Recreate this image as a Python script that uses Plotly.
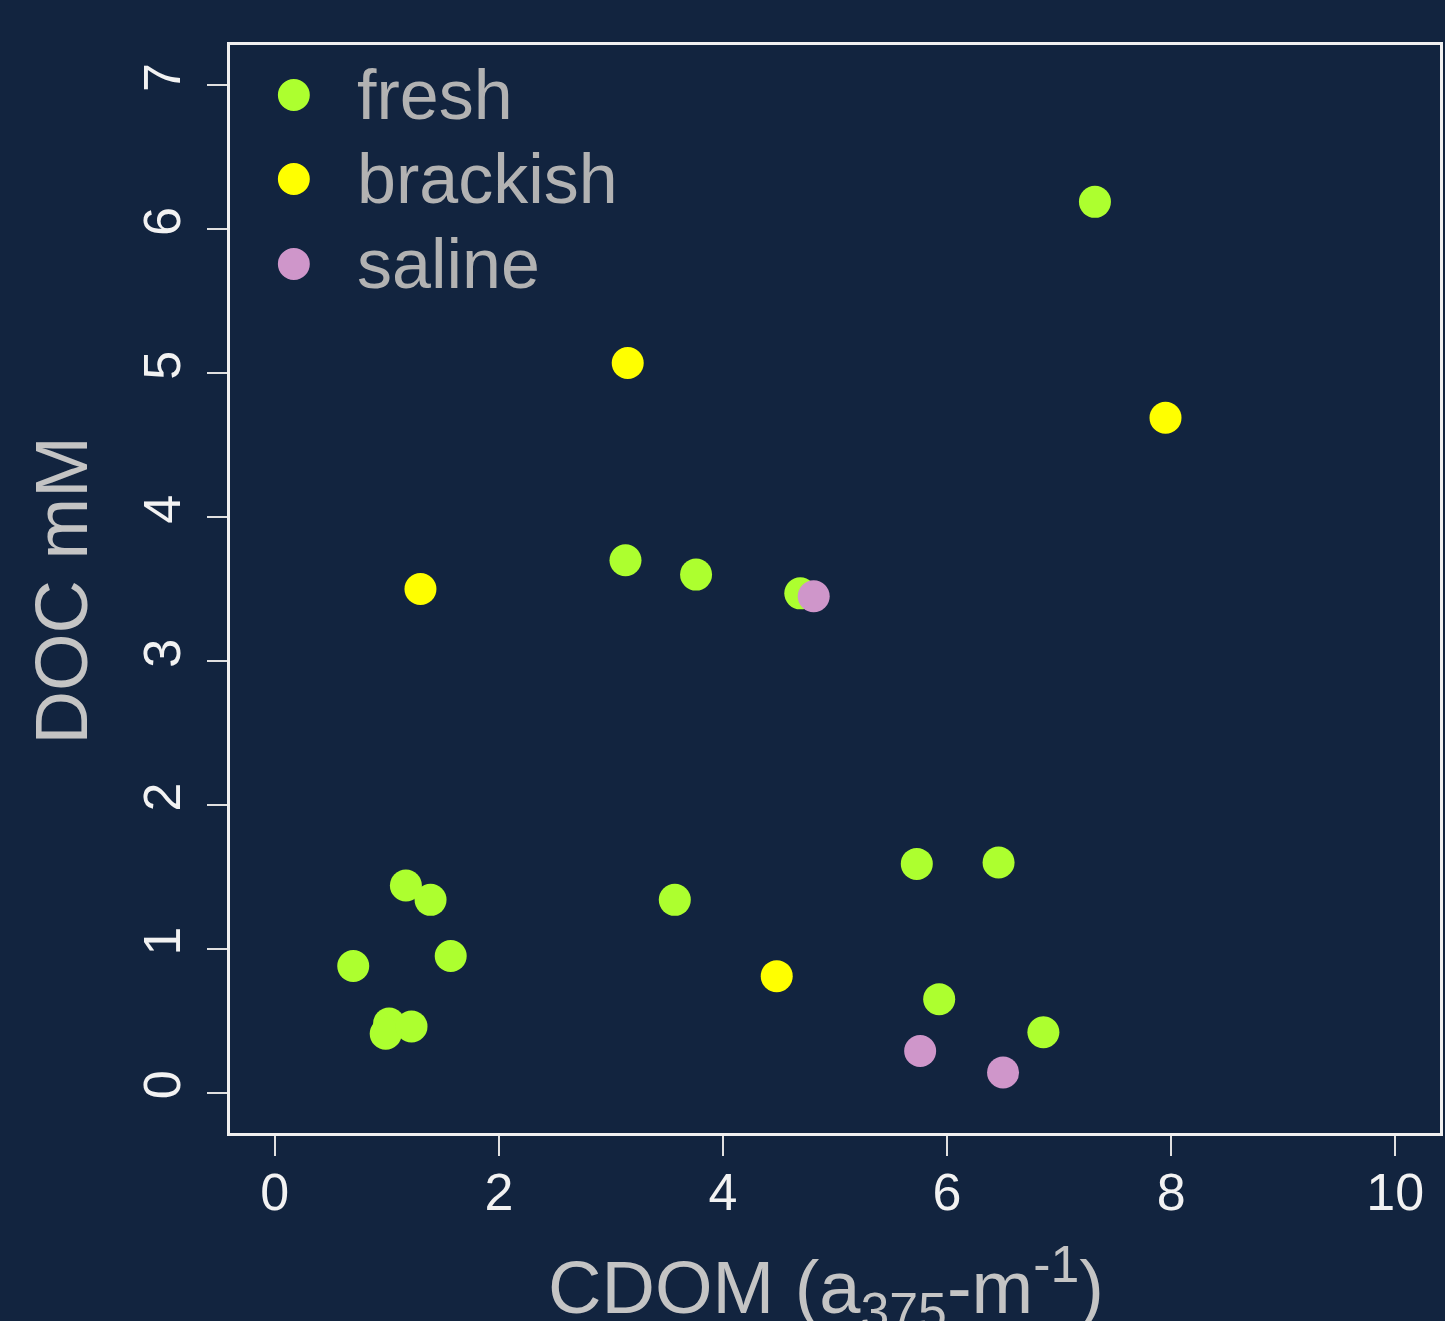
import plotly.graph_objects as go

BG = "#12243f"

fresh_x = [7.32, 3.13, 3.76, 4.69, 5.73, 6.46, 1.17, 1.39, 3.57, 0.70, 1.57, 5.93, 1.02, 0.99, 1.22, 6.86]
fresh_y = [6.19, 3.70, 3.60, 3.47, 1.59, 1.60, 1.44, 1.34, 1.34, 0.88, 0.95, 0.65, 0.48, 0.41, 0.46, 0.42]
brackish_x = [3.15, 7.95, 1.30, 4.48]
brackish_y = [5.07, 4.69, 3.50, 0.81]
saline_x = [4.81, 5.76, 6.50]
saline_y = [3.45, 0.29, 0.14]

groups = ["fresh", "brackish", "saline"]
colors = ["#adff2f", "#ffff00", "#cf96ca"]
xs = [fresh_x, brackish_x, saline_x]
ys = [fresh_y, brackish_y, saline_y]

x_ticks = [0, 2, 4, 6, 8, 10]
y_ticks = [0, 1, 2, 3, 4, 5, 6, 7]

fig = go.Figure()
for name, c, x, y in zip(groups, colors, xs, ys):
    fig.add_trace(go.Scatter(x=x, y=y, mode="markers", name=name,
                             marker=dict(color=c, size=32, line=dict(width=0)),
                             showlegend=False))

W, H = 1445, 1321
L, R, T, B = 230, 2, 45, 188

def px_to_paper_x(px):
    return (px - L) / (W - L - R)

def px_to_paper_y(py):
    return 1 - (py - T) / (H - T - B)

shapes = []
annotations = []
# manual legend
leg_y = [95, 179, 264]
for name, c, py in zip(groups, colors, leg_y):
    r = 16
    shapes.append(dict(type="circle", xref="paper", yref="paper",
                       x0=px_to_paper_x(294 - r), x1=px_to_paper_x(294 + r),
                       y0=px_to_paper_y(py + r), y1=px_to_paper_y(py - r),
                       fillcolor=c, line=dict(width=0)))
    annotations.append(dict(text=name, xref="paper", yref="paper",
                            x=px_to_paper_x(355), y=px_to_paper_y(py),
                            xanchor="left", yanchor="middle", showarrow=False,
                            font=dict(size=70, color="#b2b2b2",
                                      family="Liberation Sans, Arial, sans-serif")))

# axis titles
annotations.append(dict(text="CDOM (a<sub>375</sub>-m<sup>-1</sup>)", xref="paper", yref="paper",
                        x=px_to_paper_x(827), y=px_to_paper_y(1287),
                        xanchor="center", yanchor="middle", showarrow=False,
                        font=dict(size=74, color="#c4c4c4",
                                  family="Liberation Sans, Arial, sans-serif")))
annotations.append(dict(text="DOC mM", xref="paper", yref="paper",
                        x=px_to_paper_x(61), y=px_to_paper_y(590),
                        xanchor="center", yanchor="middle", showarrow=False, textangle=-90,
                        font=dict(size=74, color="#c4c4c4",
                                  family="Liberation Sans, Arial, sans-serif")))

fig.update_layout(
    width=W, height=H,
    margin=dict(l=L, r=R, t=T, b=B),
    paper_bgcolor=BG, plot_bgcolor=BG,
    shapes=shapes, annotations=annotations,
    showlegend=False,
    font=dict(family="Liberation Sans, Arial, sans-serif"),
)
fig.update_xaxes(range=[-0.4, 10.4], tickvals=x_ticks, ticktext=[str(v) for v in x_ticks],
                 showgrid=False, zeroline=False, showline=True, mirror=True,
                 linecolor="#f0f0f0", linewidth=3, ticks="outside", ticklen=20,
                 tickwidth=2, tickcolor="#e0e0e0", ticklabelstandoff=-8,
                 tickfont=dict(size=52, color="#f2f2f2"))
fig.update_yaxes(range=[-0.28, 7.28], tickvals=y_ticks, ticktext=[str(v) for v in y_ticks],
                 showgrid=False, zeroline=False, showline=True, mirror=True,
                 linecolor="#f0f0f0", linewidth=3, ticks="outside", ticklen=20,
                 tickwidth=2, tickcolor="#e0e0e0", tickangle=-90, ticklabelstandoff=6,
                 tickfont=dict(size=52, color="#f2f2f2"))

fig.write_html("out.html")
